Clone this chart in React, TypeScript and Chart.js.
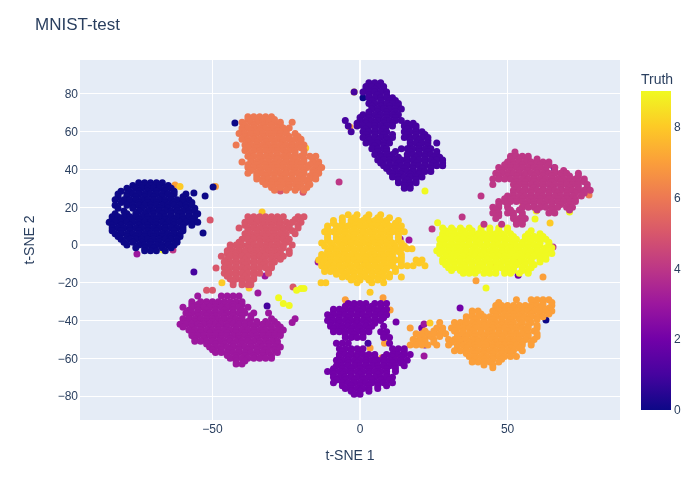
import React, { useEffect, useRef } from "react";
import { Chart, registerables } from "chart.js";

Chart.register(...registerables);

const truth0Rows = [
  [33,-75,-73,-71,-69,-67],
  [31.5,-77,-74,-71,-68,-65],
  [30,-79,-76,-74,-72,-70,-68,-66,-64],
  [28.5,-81,-78,-75,-72,-69,-66,-63],
  [27,-82,-79,-77,-75,-73,-71,-69,-67,-65,-63,-59],
  [25.5,-82,-79,-76,-73,-70,-67,-64,-60],
  [24,-83,-80,-78,-76,-74,-72,-70,-68,-66,-64,-62,-60,-58],
  [22.5,-81,-78,-75,-72,-69,-66,-63,-60,-57],
  [21,-83,-79,-77,-75,-73,-71,-69,-67,-65,-63,-61,-59,-57],
  [19.5,-82,-77,-74,-71,-68,-65,-62,-59,-56],
  [18,-80,-75,-72,-70,-68,-66,-64,-62,-60,-58,-56],
  [16.5,-83,-79,-76,-73,-70,-67,-64,-61,-58,-55],
  [15,-84,-82,-80,-78,-76,-74,-72,-70,-68,-66,-64,-62,-60,-58,-56],
  [13.5,-84,-81,-78,-75,-72,-69,-66,-63,-60,-57],
  [12,-85,-83,-81,-79,-77,-75,-73,-71,-69,-67,-65,-63,-61,-59,-57,-55],
  [10.5,-84,-81,-78,-75,-72,-69,-66,-63,-60,-57],
  [9,-84,-82,-80,-78,-76,-74,-72,-70,-68,-66,-64,-62,-60],
  [7.5,-84,-81,-78,-75,-72,-69,-66,-63,-60],
  [6,-83,-81,-79,-77,-75,-73,-71,-69,-67,-65,-63,-61],
  [4.5,-82,-79,-76,-73,-70,-67,-64,-61],
  [3,-81,-78,-76,-74,-72,-70,-68,-66,-64,-62],
  [1.5,-80,-77,-74,-71,-68,-65,-62],
  [0,-79,-75,-73,-71,-69,-67,-65,-63],
  [-1.5,-76,-73,-70,-67,-64],
  [-3,-73,-71,-69,-66],
];
const truth1Rows = [
  [86,3,5,7],
  [84,2,4,6,8],
  [82.5,2,5,8],
  [81,-2,1,3,5,7,9],
  [79.5,3,6,9],
  [78,3,5,7,9,11],
  [76.5,4,7,10,12],
  [75,3,5,7,9,11,13],
  [73.5,4,7,10,13],
  [72,4,6,8,10,12,14],
  [70.5,3,6,9,12],
  [69,1,3,5,7,9,11,13],
  [67.5,0,3,6,9,12],
  [66,-5,0,2,4,6,8,10,12,14],
  [64.5,-1,2,5,8,11,16,18],
  [63,-4,-1,1,3,5,7,9,11,15,17,19],
  [61.5,2,5,8,16,19],
  [60,-3,1,3,5,7,9,15,17,19,21],
  [58.5,2,5,8,11,16,19,22],
  [57,1,3,5,7,9,11,15,17,19,21,23],
  [55.5,3,6,9,17,20,23],
  [54,2,4,6,8,10,17,19,21,23,26],
  [52.5,5,8,17,20,23],
  [51,4,6,8,9,14,16,18,20,22,24],
  [49.5,6,9,12,17,20,23,26],
  [48,5,7,9,11,16,18,20,22,24,26],
  [46.5,7,10,13,16,19,22,25,27],
  [45,6,8,10,12,14,16,18,20,22,24,26,28],
  [43.5,7,10,13,16,19,22,25,28],
  [42,8,10,12,14,16,18,20,22,24,26,28],
  [40.5,9,12,15,18,21,24],
  [39,10,12,14,16,18,20,22,24],
  [37.5,11,14,17,20],
  [36,11,13,15,17,19,21],
  [34.5,13,16,19],
  [33,13,15,17,19],
  [31.5,15,17],
  [30,15,17],
];
const truth2Rows = [
  [-31,-4,-2,0,2,5,7,9],
  [-32.5,-5,-2,1,4,7],
  [-34,-9,-7,-5,-3,-1,1,3,5,7,9],
  [-35.5,-9,-6,-3,0,3,6,8],
  [-37,-11,-9,-7,-5,-3,-1,1,3,5,7,9],
  [-38.5,-10,-7,-4,-1,2,5,8],
  [-40,-11,-9,-7,-5,-3,-1,1,3,5,7],
  [-41.5,-10,-7,-4,-1,2,5],
  [-43,-10,-8,-6,-4,-2,0,2,4,8],
  [-44.5,-9,-6,-3,0,3],
  [-46,-9,-7,-5,-3,-1,1,3,7,9],
  [-47.5,-5,-2,1,8],
  [-49,-5,-3,-1,1,8,10],
  [-52,-8,-6,-4,10],
  [-55,-7,-5,-3,-1,1,11,13,15],
  [-56.5,-6,-3,0,12,15],
  [-58,-7,-5,-3,-1,1,3,5,9,11,13,15,17],
  [-59.5,-7,-4,-1,2,5,8,11,14],
  [-61,-8,-6,-4,-2,0,2,4,6,8,10,12,14,16],
  [-62.5,-7,-4,-1,2,5,8,11,14],
  [-64,-8,-6,-4,-2,0,2,4,6,8,10,12,15],
  [-65.5,-9,-6,-3,0,3,6,9,12],
  [-67,-11,-9,-7,-5,-3,-1,1,3,5,7,9,12],
  [-68.5,-9,-6,-3,0,3,6,9],
  [-70,-9,-7,-5,-3,-1,1,3,5,7,9,11],
  [-71.5,-8,-5,-2,1,4,7,10],
  [-73,-9,-6,-4,-2,0,2,4,6,8,11],
  [-74.5,-6,-3,0,3,6,9],
  [-76,-5,-3,-1,1,3,6],
  [-77.5,-3,0,3],
  [-79,-2,0],
];
const truth3Rows = [
  [-27,-55,-47,-45,-43,-41],
  [-30,-57,-54,-52,-50,-48,-46,-44,-42,-40],
  [-31.5,-57,-55,-52,-49,-46,-43,-40],
  [-33,-60,-57,-55,-53,-51,-49,-47,-45,-43,-41,-38],
  [-34.5,-58,-55,-52,-49,-46,-43,-40],
  [-36,-59,-57,-55,-53,-51,-49,-47,-45,-43,-41,-39,-36],
  [-37.5,-58,-55,-52,-49,-46,-43,-40,-37],
  [-39,-60,-58,-56,-54,-52,-50,-48,-46,-44,-42,-40,-37,-30],
  [-40.5,-59,-56,-53,-50,-47,-44,-41,-38,-35,-32,-29],
  [-42,-61,-59,-57,-55,-53,-51,-49,-47,-45,-43,-41,-39,-37,-35,-33,-31,-28],
  [-43.5,-60,-57,-54,-51,-48,-45,-42,-39,-36,-33,-30,-27],
  [-45,-58,-56,-54,-52,-50,-48,-46,-44,-42,-40,-38,-36,-34,-32,-30,-28,-26],
  [-46.5,-57,-54,-51,-48,-45,-42,-39,-36,-33,-30,-27],
  [-48,-57,-55,-53,-51,-49,-47,-45,-43,-41,-39,-37,-35,-33,-31,-29,-27],
  [-49.5,-56,-53,-50,-47,-44,-41,-38,-35,-32,-29],
  [-51,-56,-54,-52,-50,-48,-46,-44,-42,-40,-38,-36,-34,-32,-30,-28],
  [-52.5,-52,-49,-46,-43,-40,-37,-34,-31,-28],
  [-54,-51,-49,-47,-45,-43,-41,-39,-37,-35,-33,-31,-29,-27],
  [-55.5,-50,-47,-44,-41,-38,-35,-32,-29],
  [-57,-49,-47,-45,-43,-41,-39,-37,-35,-33,-31,-28],
  [-58.5,-45,-42,-39,-36,-33,-30],
  [-60,-44,-42,-40,-38,-36,-34,-32,-30],
  [-61.5,-42,-39],
  [-63,-42,-40],
];
const truth4Rows = [
  [47,51,53,55,57],
  [45.5,51,54,57,60],
  [44,50,52,54,56,58,60,62,64],
  [42.5,49,52,55,58,61,64],
  [41,47,49,51,53,55,57,59,61,63,66],
  [39.5,48,51,54,57,60,63,66,69],
  [38,46,48,50,52,54,56,58,60,62,64,66,68,70,74],
  [36.5,47,50,53,56,59,62,65,68,71,74],
  [35,45,47,49,51,53,55,57,59,61,63,65,67,69,71,73,76],
  [33.5,53,56,59,62,65,68,71,74,76],
  [32,45,52,54,56,58,60,62,64,66,68,70,72,74,77],
  [30.5,53,56,59,62,65,68,71,74,77],
  [29,52,54,56,58,60,62,64,66,68,70,72,74,76,78],
  [27.5,52,55,58,61,64,67,70,73,76],
  [26,41,50,52,54,56,58,60,62,64,66,68,70,72,75],
  [24.5,49,52,55,58,61,64,67,70,73],
  [23,47,49,51,53,55,57,59,61,63,65,67,69,71,73],
  [21.5,47,50,56,59,62,65,68,71],
  [20,45,47,50,55,57,59,61,63,65,67,70,72],
  [18.5,46,51,54,60,65,71],
  [17,45,47,50,52,55,64,66],
  [15.5,47,52,55],
  [14,46,52,54,56],
  [12.5,53,55],
  [11,48,53,55,42],
];
const truth5Rows = [
  [15,-38,-36,-34,-32,-30,-28,-26,-21,-19],
  [13.5,-37,-34,-31,-28,-22],
  [12,-39,-37,-35,-33,-31,-29,-27,-25,-23,-20],
  [10.5,-39,-36,-33,-30,-27,-24,-21],
  [9,-41,-38,-36,-34,-32,-30,-28,-26,-24,-21],
  [7.5,-38,-35,-32,-29,-26,-23],
  [6,-39,-37,-35,-33,-31,-29,-27,-25,-22],
  [4.5,-38,-35,-32,-29,-26],
  [3,-40,-38,-36,-34,-32,-30,-28,-26,-24],
  [1.5,-41,-37,-34,-31,-28,-25],
  [0,-44,-42,-40,-38,-36,-34,-32,-30,-28,-26,-23],
  [-1.5,-44,-41,-38,-35,-32,-29,-26],
  [-3,-45,-43,-41,-39,-37,-35,-33,-31,-29,-27,-24],
  [-4.5,-45,-42,-39,-36,-33,-30,-27,-24],
  [-6,-47,-44,-42,-40,-38,-36,-34,-32,-30,-28,-26],
  [-7.5,-45,-42,-39,-36,-33,-30,-27],
  [-9,-46,-44,-42,-40,-38,-36,-34,-32,-29],
  [-10.5,-45,-42,-39,-36,-33,-30],
  [-12,-46,-44,-42,-40,-38,-36,-34,-32,-30],
  [-13.5,-45,-42,-39,-36,-31],
  [-15,-46,-44,-42,-40,-38,-36,-34,-31],
  [-16.5,-45,-42,-39,-36],
  [-18,-44,-42,-40,-38,-36],
  [-19.5,-43,-40,-37],
  [-21,-43,-40,-38],
  [-24,-52,-50],
];
const truth6Rows = [
  [68,-38,-36,-34,-32,-30],
  [66.5,-38,-35,-32,-29],
  [65,-40,-37,-35,-33,-31,-29,-27,-23],
  [63.5,-39,-36,-33,-30,-27],
  [62,-40,-38,-36,-34,-32,-30,-28,-26,-24],
  [60.5,-40,-37,-34,-31,-28,-25],
  [59,-41,-39,-37,-35,-33,-31,-29,-27,-25,-22],
  [57.5,-39,-36,-33,-30,-27,-24,-21],
  [56,-40,-38,-36,-34,-32,-30,-28,-26,-24,-22,-20],
  [54.5,-38,-35,-32,-29,-26,-23,-20],
  [53,-42,-39,-37,-35,-33,-31,-29,-27,-25,-23,-21,-19],
  [51.5,-38,-35,-32,-29,-26,-23,-20],
  [50,-39,-36,-34,-32,-30,-28,-26,-24,-22,-19],
  [48.5,-37,-34,-31,-28,-25,-22,-19],
  [47,-38,-36,-34,-32,-30,-28,-26,-24,-22,-20,-17,-15],
  [45.5,-37,-34,-31,-28,-25,-22,-19,-16],
  [44,-40,-37,-35,-33,-31,-29,-27,-25,-23,-21,-19,-16,-14],
  [42.5,-38,-35,-32,-29,-26,-23,-20,-17,-14],
  [41,-38,-36,-34,-32,-30,-28,-26,-24,-22,-20,-18,-15,-13],
  [39.5,-37,-34,-31,-28,-25,-22,-19,-16,-14],
  [38,-38,-35,-33,-31,-29,-27,-25,-23,-21,-19,-16,-14],
  [36.5,-35,-32,-29,-26,-23,-20,-17,-15],
  [35,-35,-33,-31,-29,-27,-25,-23,-21,-19,-17,-15],
  [33.5,-33,-30,-27,-24,-21,-18],
  [32,-32,-30,-28,-26,-24,-22,-20,-17],
  [30.5,-30,-27,-24,-21,-18],
  [29,-29,-25,-22,-19],
];
const truth7Rows = [
  [-29,53,58,60,62,64],
  [-30.5,47,59,62,65],
  [-32,46,48,50,52,54,56,58,60,62,65],
  [-33.5,46,49,52,55,58,61,64],
  [-35,38,40,45,47,49,51,53,55,57,59,61,63,65],
  [-36.5,38,41,46,49,52,55,58,61,64],
  [-38,36,38,40,42,44,46,48,50,52,54,56,58,60,62],
  [-39.5,36,39,42,45,48,51,54,57,60],
  [-41,27,32,34,36,38,40,42,44,46,48,50,52,55,58],
  [-42.5,33,36,39,42,45,48,51,54,57,60],
  [-44,17,26,28,31,33,35,37,39,41,43,45,47,49,51,53,55,57,60],
  [-45.5,22,25,28,32,35,38,41,44,47,50,53,56,59],
  [-47,19,21,23,25,27,29,33,35,37,39,41,43,45,47,49,51,53,55,57,60],
  [-48.5,21,24,27,33,36,39,42,45,48,51,54,57,60],
  [-50,18,20,22,25,30,32,34,36,38,40,42,44,46,48,50,52,54,56,59],
  [-51.5,19,22,25,31,34,37,40,43,46,49,52,55,58],
  [-53,17,19,21,23,26,30,33,35,37,39,41,43,45,47,49,51,53,55,58],
  [-54.5,33,36,39,42,45,48,51,54],
  [-56,32,34,36,38,40,42,44,46,48,50,52,55],
  [-57.5,36,39,42,45,48,51],
  [-59,37,39,41,43,45,47,49,51,53],
  [-60.5,39,42,45,48],
  [-62,38,40,42,44,47],
  [-63.5,42,45],
  [-65,45],
];
const truth8Rows = [
  [16,-4,-1,3,7],
  [14.5,-6,-2,2,6,10],
  [13,-9,-6,-3,-1,1,3,5,7,9,13],
  [11.5,-9,-6,-3,0,3,6,9,12],
  [10,-11,-8,-6,-4,-2,0,2,4,6,8,10,12,14],
  [8.5,-11,-8,-5,-2,1,4,7,10,13],
  [7,-12,-9,-7,-5,-3,-1,1,3,5,7,9,11,13,15],
  [5.5,-11,-8,-5,-2,1,4,7,10,13],
  [4,-11,-8,-6,-4,-2,0,2,4,6,8,10,13],
  [2.5,-11,-8,-5,-2,1,4,7,10,13],
  [1,-13,-10,-7,-5,-3,-1,1,3,5,7,9,11,14],
  [-0.5,-12,-9,-6,-3,0,3,6,9,12,15],
  [-2,-10,-8,-6,-4,-2,0,2,4,6,8,10,12,14,16],
  [-3.5,-11,-8,-5,-2,1,4,7,10,13],
  [-5,-13,-11,-9,-7,-5,-3,-1,1,3,5,7,9,11,14],
  [-6.5,-13,-10,-7,-4,-1,2,5,8,11,14],
  [-8,-14,-12,-10,-8,-6,-4,-2,0,2,4,6,8,10,12,14,19,21],
  [-9.5,-13,-10,-7,-4,-1,2,5,8,11,14,20],
  [-11,-13,-11,-9,-7,-5,-3,-1,1,3,5,7,9,11,14,16,18,22],
  [-12.5,-12,-9,-6,-3,0,3,6,9,12],
  [-14,-12,-10,-8,-6,-4,-2,0,2,4,6,8,12],
  [-15.5,-8,-5,-2,1,4,7,10],
  [-17,-6,-4,-2,0,2,4,6,8,10,14],
  [-18.5,-3,0,3,6],
  [-20,-1,4,8],
];
const truth9Rows = [
  [9,28,31,34,37,41,44,47,50],
  [7.5,29,32,35,38,41,44,47,50,58],
  [6,28,30,32,34,36,38,40,42,44,46,48,51,57,61],
  [4.5,28,31,34,37,40,43,46,49,52,56,59,62],
  [3,27,29,31,33,35,37,39,41,43,45,47,49,51,53,56,58,60,63],
  [1.5,28,31,34,37,40,43,46,49,52,55,58,61,64],
  [0,27,29,31,33,35,37,39,41,43,45,47,49,51,53,55,57,59,61,64],
  [-1.5,27,30,33,36,39,42,45,48,51,54,57,60,63,65],
  [-3,26,28,30,32,34,36,38,40,42,44,46,48,50,52,54,56,58,60,62,64],
  [-4.5,27,30,33,36,39,42,45,48,51,54,57,60,63,65],
  [-6,29,31,33,35,37,39,41,43,45,47,49,51,53,55,57,59,61,63],
  [-7.5,28,31,34,37,40,43,46,49,52,55,58,61,63],
  [-9,28,30,32,34,36,38,40,42,44,46,48,50,52,54,56,58,61],
  [-10.5,29,32,35,38,41,44,47,50,53,56,59],
  [-12,30,32,34,36,38,40,42,44,46,48,50,52,55,58],
  [-13.5,31,34,37,40,43,46,49,52,55,57],
  [-15,35,37,39,42,44,46,49,51,54,57],
];

// Stray points drawn over the clusters, in drawing order.
const strayTruth = [7,8,0,0,0,7,0,5,4,3,9,4,0,0,8,5,5,5,5,7,8,6,9,4,1,1,6,9,8,9,9,8,9,8,8,8,3,3,1,5,5,5,9,9,9,9,9,9,1,3,3,2,3,8,7,7,2,8,8,4,4,4,7,9,9,7,2,3,6,7,2,3,3,2,3,2,2,8,2,2,3,3,7,7,7,7,1,0,8,7,3,6];
const strayX = [-62.7,-61,-53.2,-56.3,-52.5,-49,-49.8,-50.8,-63.4,-75.6,-66.8,-7.1,-42.4,1,-18.4,-28.8,-27,-19.3,-24.4,-3.4,-2,4,22,52.5,65.8,65.8,77.6,55,62,59.7,59.3,64.4,71,-33.2,-46.8,-37.6,-32.2,-34.6,-31.5,-22.7,-37,-48.8,-21.5,-20,-19,-27.6,-26,-24,-56.3,16.6,13.6,2,-14.2,17.6,7.8,10.2,12.2,-13.2,-11.6,34.6,24.4,65.4,39.3,42.7,26.3,62,53.6,39.6,54,45,20.9,23.7,21.7,22,21.7,33.9,35.6,23.7,34.6,45,-23,-31,3.4,7.4,12.8,8.3,2.7,63,3.4,-5,-22,-36];
const strayY = [31.8,31,6.4,27.5,26,31,30.7,13.2,-2.6,-4.8,-2.6,33.4,64.6,78,51.4,32.8,28.6,28,33.9,62.5,81,75,28.6,49.3,40.8,40.8,26.5,22.8,31.8,18,13.8,11.7,17.5,17.5,-20,-22.8,-16.4,-25.4,-32.3,-22.3,-21,-12.2,-24,-23,-23,-28,-31,-32,-14.3,2.6,3.2,-9,-9,-2,-28,-34.4,-40.8,-20,-20,14.8,8.5,-1,-19,-22.8,11.8,-17,-16,-12.7,-7,-11,-44,-47.7,-41.9,-53,-58.8,-33.4,-41.3,-41.3,-49.8,-48.7,-41,-36,-54.6,-59.7,-58.3,-52,-52,-39.7,-25,-29,-39,-3];

const truthRows = [truth0Rows, truth1Rows, truth2Rows, truth3Rows, truth4Rows, truth5Rows, truth6Rows, truth7Rows, truth8Rows, truth9Rows];
const plasma = ["#0d0887","#46039f","#7201a8","#9c179e","#bd3786","#d8576b","#ed7953","#fb9f3a","#fdca26","#f0f921"];
const colorbarTicks = [0, 2, 4, 6, 8];
const chartTitle = "MNIST-test";
const xTitle = "t-SNE 1";
const yTitle = "t-SNE 2";
const colorbarTitle = "Truth";
const FONT = '"Liberation Sans", Arial, sans-serif';
const INK = "#2a3f5f";

const rowsToPoints = (rows: number[][]) =>
  rows.flatMap((row) => row.slice(1).map((x) => ({ x, y: row[0] })));

const decor = {
  id: "decor",
  beforeDraw(chart: any) {
    const { ctx, chartArea: a } = chart;
    ctx.save();
    ctx.fillStyle = "#E5ECF6";
    ctx.fillRect(a.left, a.top, a.right - a.left, a.bottom - a.top);
    ctx.restore();
  },
  afterDraw(chart: any) {
    const { ctx } = chart;
    ctx.save();
    ctx.fillStyle = INK;
    ctx.textBaseline = "alphabetic";
    ctx.textAlign = "left";
    ctx.font = `17px ${FONT}`;
    ctx.fillText(chartTitle, 35, 30);
    ctx.font = `14px ${FONT}`;
    ctx.fillText(colorbarTitle, 641, 84);
    const top = 91;
    const bottom = 410;
    const g = ctx.createLinearGradient(0, bottom, 0, top);
    plasma.forEach((c, i) => g.addColorStop(i / 9, c));
    ctx.fillStyle = g;
    ctx.fillRect(641, top, 30, bottom - top);
    ctx.fillStyle = INK;
    ctx.font = `12px ${FONT}`;
    ctx.textBaseline = "middle";
    colorbarTicks.forEach((t) => {
      ctx.fillText(String(t), 674, bottom + 1 - ((bottom - top) * t) / 9);
    });
    ctx.restore();
  },
};

export default function App() {
  const ref = useRef<HTMLCanvasElement>(null);
  useEffect(() => {
    document.body.style.margin = "0";
    const datasets: any[] = truthRows.map((rows, i) => ({
      label: String(i),
      data: rowsToPoints(rows),
      pointBackgroundColor: plasma[i],
      pointBorderWidth: 0,
      pointRadius: 3.5,
    }));
    datasets.push({
      label: "strays",
      data: strayX.map((x, i) => ({ x, y: strayY[i] })),
      pointBackgroundColor: strayTruth.map((t) => plasma[t]),
      pointBorderWidth: 0,
      pointRadius: 3.5,
    });
    const gridWidth = (c: any) => (c.tick && c.tick.value === 0 ? 2 : 1);
    const fmt = (v: any) => String(v).replace("-", "\u2212");
    const chart = new Chart(ref.current as HTMLCanvasElement, {
      type: "scatter",
      data: { datasets },
      plugins: [decor],
      options: {
        animation: false,
        responsive: false,
        devicePixelRatio: 1,
        layout: { padding: { top: 60, right: 80, left: 0, bottom: 0 } },
        plugins: { legend: { display: false }, tooltip: { enabled: false } },
        scales: {
          x: {
            type: "linear",
            min: -94.9,
            max: 88.1,
            afterFit: (s: any) => { s.height = 80; },
            border: { display: false },
            grid: { color: "#ffffff", lineWidth: gridWidth, drawTicks: false },
            ticks: { stepSize: 50, includeBounds: false, maxRotation: 0, padding: 2, color: INK, font: { family: FONT, size: 12 }, callback: fmt },
            title: { display: true, text: xTitle, color: INK, font: { family: FONT, size: 14 }, padding: { top: 0, bottom: 35.6 } },
          },
          y: {
            type: "linear",
            min: -92.7,
            max: 98,
            afterFit: (s: any) => { s.width = 80; },
            border: { display: false },
            grid: { color: "#ffffff", lineWidth: gridWidth, drawTicks: false },
            ticks: { stepSize: 20, includeBounds: false, padding: 2, labelOffset: 1, color: INK, font: { family: FONT, size: 12 }, callback: fmt },
            title: { display: true, text: yTitle, color: INK, font: { family: FONT, size: 14 }, padding: { top: 21.6, bottom: 0 } },
          },
        },
      } as any,
    });
    return () => chart.destroy();
  }, []);
  return (
    <div style={{ width: 700, height: 500, background: "#fff" }}>
      <canvas ref={ref} width={700} height={500} style={{ display: "block" }} />
    </div>
  );
}
